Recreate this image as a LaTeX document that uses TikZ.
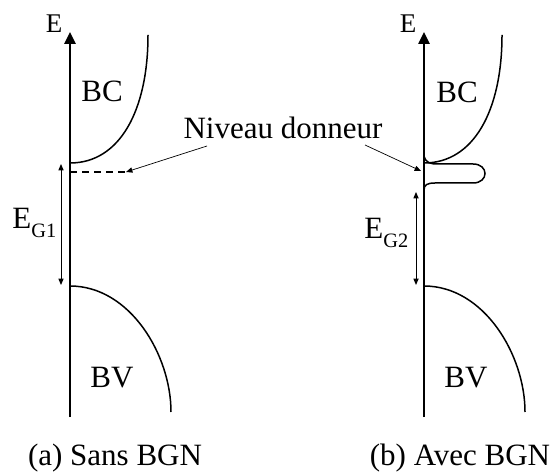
\documentclass[tikz,border=0pt]{standalone}
\usepackage{fontspec}
\setmainfont{Liberation Serif}
\usetikzlibrary{arrows.meta}
\newcommand{\egap}[1]{E\raisebox{-0.26em}{\fontsize{10.2}{12}\selectfont G#1}}
\tikzset{
  lbl/.style={font=\fontsize{15.5}{18}\selectfont,inner sep=0pt,anchor=base},
  elbl/.style={font=\fontsize{13.5}{16}\selectfont,inner sep=0pt,anchor=base},
  axis/.style={line width=1.25pt,-{Triangle[length=6pt,width=5.5pt]}},
  band/.style={line width=0.75pt},
  lvl/.style={line width=0.75pt,dash pattern=on 3.5pt off 2.5pt},
  gap/.style={line width=0.5pt,{Triangle[length=3.2pt,width=2.6pt]}-{Triangle[length=3.2pt,width=2.6pt]}},
  ptr/.style={line width=0.35pt,-{Triangle[length=3.2pt,width=2.6pt]}},
}

\begin{document}
\begin{tikzpicture}[x=0.5pt,y=-0.5pt]
  \useasboundingbox (0,0) rectangle (555,474);
  % ---------- (a) sans BGN ----------
  \begin{scope}
    \coordinate (botA) at (70,417);
    \coordinate (topA) at (70,32);
    \draw[axis] (botA) -- (topA);
    \node[elbl] (eA) at (54,33) {E};
    \draw[band] (70,163) .. controls (120,163) and (148,110) .. (148,35);
    \node[lbl] (bcA) at (102,102) {BC};
    \coordinate (lvlA0) at (70,172);
    \coordinate (lvlA) at (126,172);
    \draw[lvl] (lvlA0) -- (lvlA);
    \coordinate (gapAt) at (61,164);
    \coordinate (gapAb) at (61,285);
    \draw[gap] (gapAt) -- (gapAb);
    \node[lbl,anchor=base west] (egA) at (12,229) {\egap{1}};
    \draw[band] (70,286) .. controls (130,286) and (171,355) .. (171,412);
    \node[lbl] (bvA) at (112,387) {BV};
    \node[lbl] (capA) at (115,465) {(a) Sans BGN};
  \end{scope}
  % ---------- (b) avec BGN ----------
  \begin{scope}[shift={(354,0)}]
    \coordinate (botB) at (70,417);
    \coordinate (topB) at (70,32);
    \draw[axis] (botB) -- (topB);
    \node[elbl] (eB) at (54,33) {E};
    \draw[band] (70,163) .. controls (120,163) and (148,110) .. (148,35);
    \node[lbl] (bcB) at (103,103) {BC};
    % impurity band
    \draw[band] (70,156) .. controls (72,163) and (76,164) .. (84,164) -- (119,164)
      .. controls (135,164) and (135,183) .. (119,183) -- (81,183)
      .. controls (73,183) and (70,185) .. (70,190);
    \coordinate (dopB) at (67,171);
    \coordinate (gapBt) at (62,192);
    \coordinate (gapBb) at (62,285);
    \draw[gap] (gapBt) -- (gapBb);
    \node[lbl,anchor=base west] (egB) at (10,239) {\egap{2}};
    \draw[band] (70,286) .. controls (130,286) and (171,355) .. (171,412);
    \node[lbl] (bvB) at (112,387) {BV};
    \node[lbl] (capB) at (106,465) {(b) Avec BGN};
  \end{scope}
  % ---------- donor level ----------
  \node[lbl] (niv) at (283,139) {Niveau donneur};
  \coordinate (nivL) at (207,146);
  \coordinate (nivR) at (365,145);
  \draw[ptr] (nivL) -- (lvlA);
  \draw[ptr] (nivR) -- (dopB);
\end{tikzpicture}
\end{document}
